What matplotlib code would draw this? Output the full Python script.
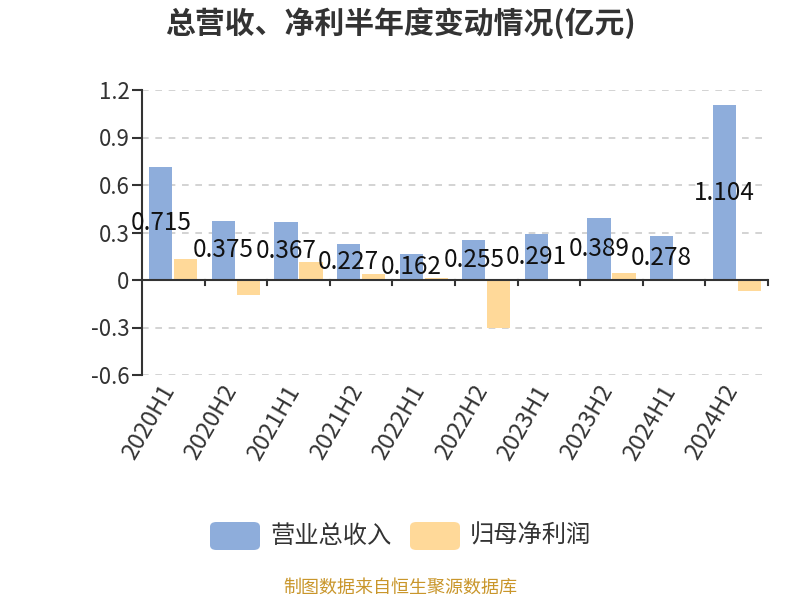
import matplotlib
matplotlib.use("Agg")
import matplotlib.pyplot as plt
import numpy as np
from matplotlib.patches import FancyBboxPatch

plt.rcParams['font.family'] = ['Noto Sans CJK SC', 'DejaVu Sans']

categories = ['2020H1', '2020H2', '2021H1', '2021H2', '2022H1', '2022H2',
              '2023H1', '2023H2', '2024H1', '2024H2']
revenue = [0.715, 0.375, 0.367, 0.227, 0.162, 0.255, 0.291, 0.389, 0.278, 1.104]
net_profit = [0.13, -0.095, 0.115, 0.04, 0.01, -0.30, 0.003, 0.045, 0.003, -0.07]
yticks = [-0.6, -0.3, 0, 0.3, 0.6, 0.9, 1.2]
ytick_labels = ['-0.6', '-0.3', '0', '0.3', '0.6', '0.9', '1.2']

blue = '#8EADDB'
orange = '#FFD999'

fig = plt.figure(figsize=(8, 6), dpi=100)
ax = fig.add_axes([0.1775, 0.375, 0.7825, 0.475])

x = np.arange(len(categories))
w = 0.37
ax.bar(x - 0.2, revenue, width=w, color=blue, zorder=3)
ax.bar(x + 0.2, net_profit, width=w, color=orange, zorder=3)

for xi, v in zip(x, revenue):
    ax.text(xi - 0.2, v / 2, f'{v:g}', ha='center', va='center',
            fontsize=17.5, color='#111111', zorder=5)

ax.set_xlim(-0.5, len(categories) - 0.5)
ax.set_ylim(-0.6, 1.2)
ax.set_yticks(yticks)
ax.set_yticklabels(ytick_labels, fontsize=16, color='#333333')
ax.yaxis.grid(True, linestyle=(0, (4, 4)), color='#cccccc', linewidth=1.2, zorder=0)
ax.set_axisbelow(True)

for s in ['top', 'right', 'bottom']:
    ax.spines[s].set_visible(False)
ax.spines['left'].set_color('#333333')
ax.spines['left'].set_linewidth(1.5)
ax.tick_params(axis='y', length=7, width=1.5, color='#333333', pad=2)

ax.axhline(0, color='#333333', linewidth=1.5, zorder=4)
ax.set_xticks([])
for b in np.arange(0.5, len(categories) - 0.5 + 0.01, 1.0):
    ax.plot([b, b], [0, -0.03], color='#333333', linewidth=1.5, zorder=4, clip_on=False)
for xi, c in zip(x, categories):
    ax.annotate(c, xy=(xi, 0), xycoords=('data', 'axes fraction'),
                xytext=(-10, -4.5), textcoords='offset points',
                rotation=60, ha='right', va='top', rotation_mode='anchor',
                fontsize=17, color='#333333')

fig.text(0.5, 1 - 23 / 600, '总营收、净利半年度变动情况(亿元)', ha='center', va='center',
         fontsize=21.5, fontweight='bold', color='#333333')

legend_y = 1 - 536 / 600
for x0, color, label in [(210, blue, '营业总收入'), (410, orange, '归母净利润')]:
    p = FancyBboxPatch((x0 / 800, legend_y - 14 / 600), 50 / 800, 28 / 600,
                       boxstyle='round,pad=0,rounding_size=0.008',
                       transform=fig.transFigure, facecolor=color, edgecolor='none')
    fig.patches.append(p)
    fig.text((x0 + 60) / 800, legend_y, label, ha='left', va='center',
             fontsize=17.5, color='#333333')

fig.text(0.5, 1 - 588 / 600, '制图数据来自恒生聚源数据库', ha='center', va='center',
         fontsize=13, color='#C9962B')

fig.savefig('out.png', dpi=100)
